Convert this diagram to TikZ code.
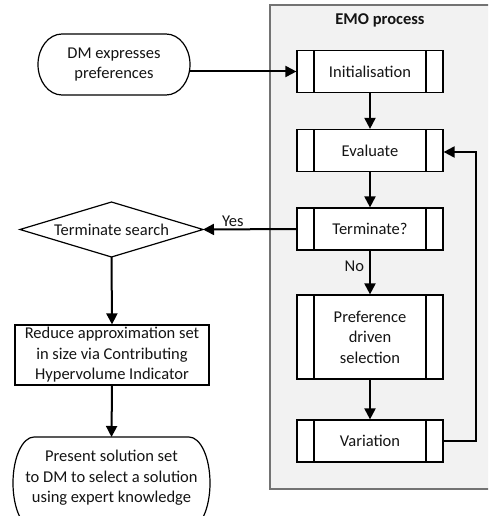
\documentclass[tikz,border=0pt]{standalone}
\usepackage{fontspec}
\setmainfont{Carlito}
\usetikzlibrary{arrows.meta}
\tikzset{
  x=1pt, y=-1pt,
  txt/.style={font=\fontsize{16.5}{20.5}\selectfont, align=center, inner sep=0pt, text=black!92},
  outline/.style={line width=1.2pt, draw=black, fill=white},
  procbox/.style={txt, outline, minimum width=146pt, minimum height=42pt,
    path picture={\draw[line width=1.2pt]
      ([xshift=17pt]path picture bounding box.north west) -- ([xshift=17pt]path picture bounding box.south west)
      ([xshift=-17pt]path picture bounding box.north east) -- ([xshift=-17pt]path picture bounding box.south east);}},
  plainbox/.style={txt, outline},
  emobox/.style={draw=black!55, line width=1.5pt, fill=black!5},
  arr/.style={line width=2pt, -{Triangle[length=11pt,width=11pt]}},
  lbl/.style={txt},
}
% cx, cy, halfwidth, halfheight(pt), end radius x (pt)
\newcommand\termshape[5]{%
  \draw[outline] (#1-#3+#5, #2-#4) -- (#1+#3-#5, #2-#4)
    arc[start angle=90, end angle=-90, x radius=#5pt, y radius=#4pt]
    -- (#1-#3+#5, #2+#4)
    arc[start angle=270, end angle=90, x radius=#5pt, y radius=#4pt] -- cycle;}
\begin{document}
\begin{tikzpicture}
\useasboundingbox (0,0) rectangle (488,516);
\clip (0,0) rectangle (488,516);

% EMO container
\node[emobox, minimum width=226pt, minimum height=484pt] (emo) at (383,247) {};
\node[txt] (emotitle) at (380,20) {\textbf{EMO process}};

% process boxes
\node[procbox] (init) at (370,71.5) {Initialisation};
\node[procbox] (eval) at (370,150.5) {Evaluate};
\node[procbox] (term) at (370,229) {Terminate?};
\node[procbox, minimum height=84pt] (pref) at (370,337) {Preference\\driven\\selection};
\node[procbox] (var) at (370,441) {Variation};

% DM expresses preferences
\termshape{114}{64.5}{76}{30.5}{24}
\node[txt] (dm) at (114,64.5) {DM expresses\\preferences};
\coordinate (dmE) at (190,71.5);

% Terminate search diamond
\draw[outline] (20,229.5) -- (111.5,202) -- (203,229.5) -- (111.5,257) -- cycle;
\node[txt] (ts) at (111.5,229.5) {Terminate search};
\coordinate (tsE) at (203,229.5);
\coordinate (tsS) at (111.5,257);

% Reduce
\node[plainbox, minimum width=194pt, minimum height=60pt] (red) at (112,355)
  {Reduce approximation set\\in size via Contributing\\Hypervolume Indicator};

% Present
\termshape{111.5}{483}{98.5}{46}{21}
\node[txt] (pr) at (111.5,478) {Present solution set\\to DM to select a solution\\using expert knowledge};
\coordinate (prN) at (111.5,437);

% connectors
\draw[arr] (dmE) -- (dmE -| init.west);
\draw[arr] (init.south) -- (eval.north);
\draw[arr] (eval.south) -- (term.north);
\draw[arr] (term.south) -- node[lbl, pos=0.35, left=5pt] (nolbl) {No} (pref.north);
\draw[arr] (pref.south) -- (var.north);
\draw[arr] (var.east) -- ++(32,0) |- ([yshift=-1.5pt]eval.east);
\draw[arr] (term.west) -- node[lbl, pos=0.68, above=2pt] (yeslbl) {Yes} (tsE);
\draw[arr] (tsS) -- (red.north);
\draw[arr] (red.south) -- (prN);
\end{tikzpicture}
\end{document}
